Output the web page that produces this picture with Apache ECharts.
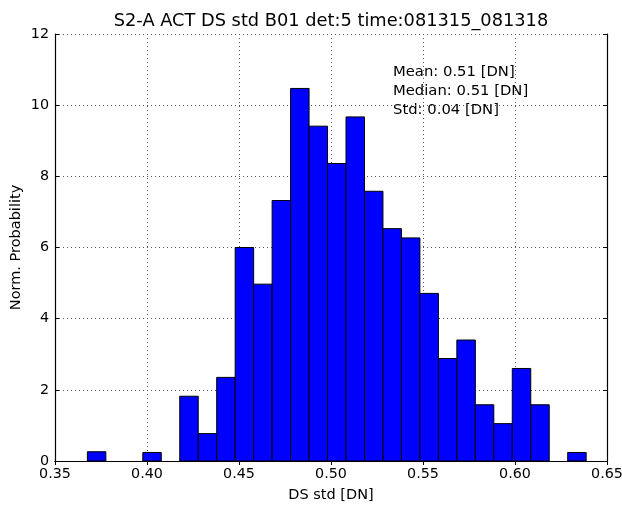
<!DOCTYPE html>
<html>
<head>
<meta charset="utf-8">
<script src="https://cdn.jsdelivr.net/npm/echarts@6/dist/echarts.min.js"></script>
<style>
html,body{margin:0;padding:0;background:#fff;}
#chart{width:622px;height:506px;}
</style>
</head>
<body>
<div id="chart"></div>
<script>
// Histogram bin edges (left edges of 27 bins, plus final right edge)
var binEdges = [0.3676, 0.37764, 0.38768, 0.39772, 0.40776, 0.4178, 0.42784, 0.43788, 0.44792,
  0.45796, 0.468, 0.47804, 0.48808, 0.49812, 0.50816, 0.5182, 0.52824, 0.53828, 0.54832,
  0.55836, 0.5684, 0.57844, 0.58848, 0.59852, 0.60856, 0.6186, 0.62864, 0.63868];
// Normalised probability per bin
var binHeights = [0.26, 0, 0, 0.24, 0, 1.82, 0.77, 2.35, 6.0, 4.97, 7.32, 10.47, 9.41, 8.36,
  9.67, 7.58, 6.53, 6.27, 4.71, 2.88, 3.40, 1.58, 1.05, 2.60, 1.58, 0, 0.24];
var xTicks = [0.35, 0.40, 0.45, 0.50, 0.55, 0.60, 0.65];
var yTicks = [0, 2, 4, 6, 8, 10, 12];
var titleText = 'S2-A ACT DS std B01 det:5 time:081315_081318';
var xLabel = 'DS std [DN]';
var yLabel = 'Norm. Probability';
var statLines = ['Mean: 0.51 [DN]', 'Median: 0.51 [DN]', 'Std: 0.04 [DN]'];

var data = [];
for (var i = 0; i < binHeights.length; i++) {
  if (binHeights[i] > 0) data.push([binEdges[i], binEdges[i + 1], binHeights[i]]);
}

var FONT = 'DejaVu Sans';
var chart = echarts.init(document.getElementById('chart'), null, {renderer: 'canvas'});
var gridLine = {show: true, lineStyle: {color: '#555', width: 1, type: [1, 3]}};
var axisLineStyle = {show: true, lineStyle: {color: '#000', width: 1.2}};
var tickStyle = {show: true, inside: true, length: 4, lineStyle: {color: '#000', width: 1}};

var statGraphics = statLines.map(function (t, k) {
  return {
    type: 'text', left: 393, top: 65 + k * 18.6,
    style: {text: t, font: '14.8px "' + FONT + '"', fill: '#000'}
  };
});
statGraphics.push({
  type: 'text', x: 331, y: 21,
  style: {text: titleText, font: '17.8px "' + FONT + '"', fill: '#000',
    align: 'center', verticalAlign: 'middle'}
});

chart.setOption({
  animation: false,
  backgroundColor: '#fff',
  textStyle: {fontFamily: FONT},
  grid: {left: 55, right: 15, top: 34, bottom: 45, outerBoundsMode: 'none', containLabel: false},
  xAxis: [{
    type: 'value', min: xTicks[0], max: xTicks[xTicks.length - 1], interval: 0.05,
    position: 'bottom',
    name: xLabel, nameLocation: 'middle', nameGap: 27, nameMoveOverlap: false,
    nameTextStyle: {fontFamily: FONT, fontSize: 14.5, color: '#000'},
    axisLine: axisLineStyle, axisTick: tickStyle,
    axisLabel: {fontFamily: FONT, fontSize: 14.3, color: '#000', margin: 6,
      formatter: function (v) { return v.toFixed(2); }},
    splitLine: gridLine
  }, {
    type: 'value', min: xTicks[0], max: xTicks[xTicks.length - 1], interval: 0.05,
    position: 'top', axisLine: axisLineStyle, axisTick: tickStyle,
    axisLabel: {show: false}, splitLine: {show: false}
  }],
  yAxis: [{
    type: 'value', min: yTicks[0], max: yTicks[yTicks.length - 1], interval: 2,
    position: 'left',
    name: yLabel, nameLocation: 'middle', nameGap: 31, nameRotate: 90, nameMoveOverlap: false,
    nameTextStyle: {fontFamily: FONT, fontSize: 14.5, color: '#000'},
    axisLine: axisLineStyle, axisTick: tickStyle,
    axisLabel: {fontFamily: FONT, fontSize: 14.3, color: '#000', margin: 6},
    splitLine: gridLine
  }, {
    type: 'value', min: yTicks[0], max: yTicks[yTicks.length - 1], interval: 2,
    position: 'right', axisLine: axisLineStyle, axisTick: tickStyle,
    axisLabel: {show: false}, splitLine: {show: false}
  }],
  graphic: statGraphics,
  series: [{
    type: 'custom',
    xAxisIndex: 0, yAxisIndex: 0,
    renderItem: function (params, api) {
      var p0 = api.coord([api.value(0), api.value(2)]);
      var p1 = api.coord([api.value(1), 0]);
      return {
        type: 'rect',
        shape: {x: p0[0], y: p0[1], width: p1[0] - p0[0], height: p1[1] - p0[1]},
        style: {fill: '#0000ff', stroke: '#000', lineWidth: 1}
      };
    },
    encode: {x: [0, 1], y: 2},
    data: data,
    z: 3
  }]
});
</script>
</body>
</html>
